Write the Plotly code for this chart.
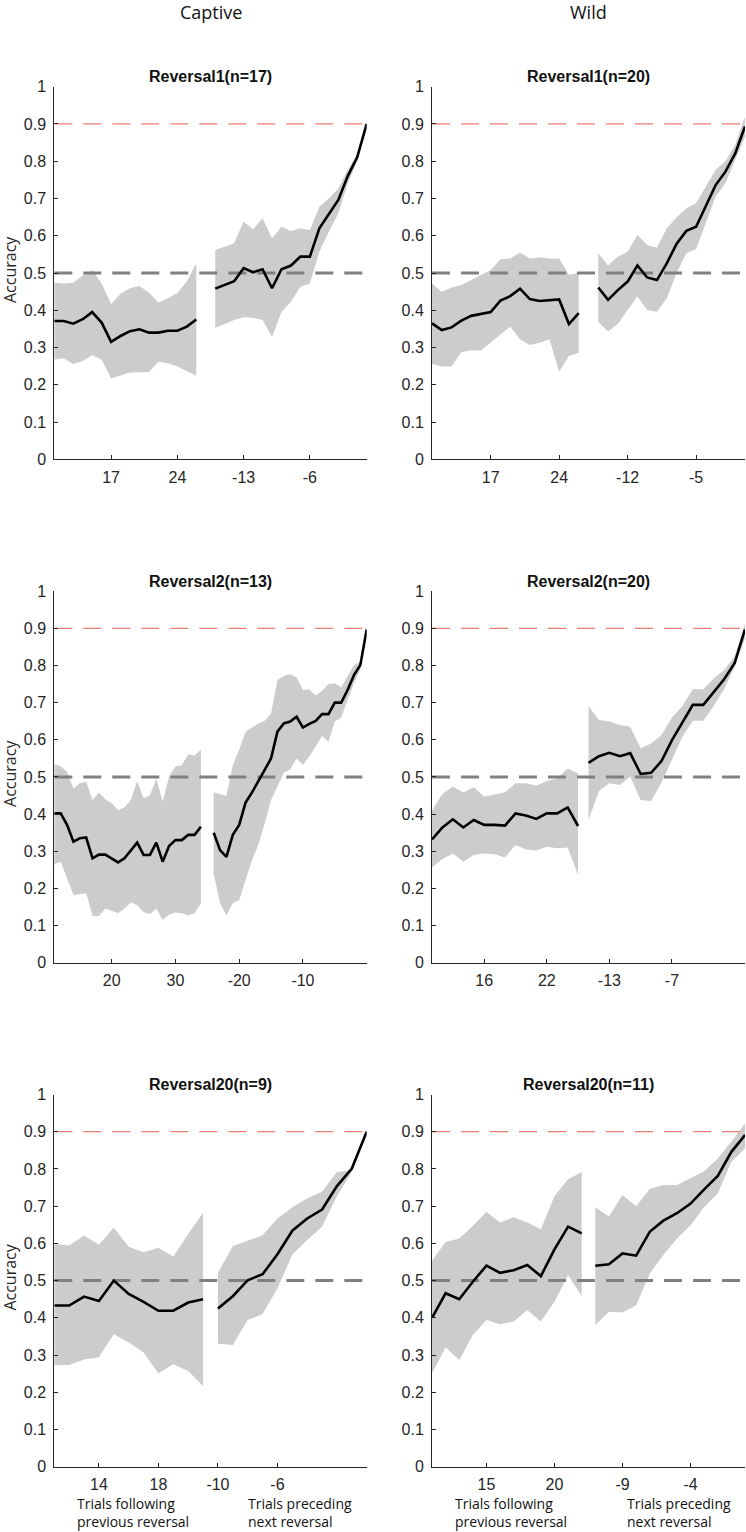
import plotly.graph_objects as go

W, H = 746, 1532

# ---------------- data ----------------
# Panel 1: Captive, Reversal1 (n=17)
p1_left_trials = list(range(11, 27))
p1_left_mean = [0.371, 0.371, 0.364, 0.376, 0.395, 0.367, 0.315, 0.331, 0.344, 0.349, 0.340, 0.340, 0.345, 0.345, 0.356, 0.375]
p1_left_hi = [0.474, 0.472, 0.474, 0.493, 0.508, 0.472, 0.417, 0.444, 0.459, 0.465, 0.447, 0.421, 0.432, 0.446, 0.477, 0.526]
p1_left_lo = [0.268, 0.271, 0.256, 0.264, 0.279, 0.267, 0.217, 0.225, 0.233, 0.233, 0.234, 0.262, 0.258, 0.249, 0.236, 0.224]
p1_right_trials = list(range(-16, 1))
p1_right_mean = [0.458, 0.468, 0.478, 0.513, 0.502, 0.510, 0.459, 0.510, 0.520, 0.544, 0.544, 0.620, 0.658, 0.696, 0.760, 0.811, 0.900]
p1_right_hi = [0.562, 0.571, 0.580, 0.638, 0.617, 0.647, 0.593, 0.624, 0.613, 0.620, 0.615, 0.678, 0.700, 0.727, 0.777, 0.817, 0.902]
p1_right_lo = [0.353, 0.363, 0.374, 0.381, 0.380, 0.374, 0.329, 0.396, 0.423, 0.463, 0.472, 0.557, 0.611, 0.660, 0.741, 0.799, 0.897]
p1_ticks = ["17", "24", "-13", "-6"]

# Panel 2: Wild, Reversal1 (n=20)
p2_left_trials = list(range(11, 27))
p2_left_mean = [0.365, 0.347, 0.354, 0.372, 0.385, 0.390, 0.395, 0.426, 0.438, 0.458, 0.430, 0.425, 0.426, 0.429, 0.363, 0.392]
p2_left_hi = [0.472, 0.450, 0.461, 0.468, 0.481, 0.495, 0.508, 0.537, 0.539, 0.555, 0.539, 0.542, 0.539, 0.539, 0.495, 0.499]
p2_left_lo = [0.256, 0.249, 0.249, 0.287, 0.293, 0.292, 0.314, 0.334, 0.356, 0.322, 0.307, 0.313, 0.322, 0.235, 0.277, 0.286]
p2_right_trials = list(range(-15, 1))
p2_right_mean = [0.461, 0.428, 0.454, 0.477, 0.520, 0.488, 0.481, 0.526, 0.578, 0.613, 0.624, 0.678, 0.736, 0.772, 0.821, 0.893]
p2_right_hi = [0.553, 0.520, 0.544, 0.557, 0.602, 0.575, 0.568, 0.620, 0.649, 0.674, 0.687, 0.732, 0.777, 0.800, 0.844, 0.920]
p2_right_lo = [0.369, 0.343, 0.363, 0.401, 0.437, 0.401, 0.396, 0.432, 0.499, 0.553, 0.564, 0.633, 0.705, 0.741, 0.803, 0.866]
p2_ticks = ["17", "24", "-12", "-5"]

# Panel 3: Captive, Reversal2 (n=13)
p3_left_trials = list(range(11, 35))
p3_left_mean = [0.402, 0.402, 0.371, 0.326, 0.335, 0.337, 0.281, 0.291, 0.291, 0.281, 0.270, 0.281,
                0.302, 0.323, 0.290, 0.290, 0.323, 0.272, 0.314, 0.330, 0.330, 0.344, 0.344, 0.366]
p3_left_hi = [0.534, 0.529, 0.514, 0.469, 0.483, 0.487, 0.438, 0.458, 0.440, 0.429, 0.411, 0.418,
              0.438, 0.489, 0.442, 0.451, 0.496, 0.433, 0.501, 0.528, 0.532, 0.561, 0.557, 0.574]
p3_left_lo = [0.265, 0.272, 0.227, 0.182, 0.184, 0.187, 0.126, 0.126, 0.146, 0.140, 0.133, 0.146,
              0.162, 0.155, 0.136, 0.131, 0.146, 0.115, 0.130, 0.135, 0.133, 0.128, 0.133, 0.160]
p3_right_trials = list(range(-24, 1))
p3_right_mean = [0.350, 0.303, 0.285, 0.344, 0.371, 0.431, 0.458, 0.487, 0.519, 0.550, 0.622, 0.644, 0.649,
                 0.662, 0.633, 0.643, 0.651, 0.669, 0.669, 0.700, 0.700, 0.734, 0.774, 0.801, 0.897]
p3_right_hi = [0.459, 0.453, 0.449, 0.532, 0.573, 0.622, 0.633, 0.644, 0.651, 0.671, 0.761, 0.772, 0.777,
               0.768, 0.734, 0.736, 0.719, 0.732, 0.750, 0.752, 0.741, 0.770, 0.801, 0.810, 0.900]
p3_right_lo = [0.240, 0.160, 0.128, 0.160, 0.169, 0.223, 0.276, 0.317, 0.375, 0.438, 0.474, 0.511, 0.521,
               0.550, 0.532, 0.555, 0.581, 0.610, 0.595, 0.649, 0.660, 0.707, 0.752, 0.788, 0.896]
p3_ticks = ["20", "30", "-20", "-10"]

# Panel 4: Wild, Reversal2 (n=20)
p4_left_trials = list(range(11, 26))
p4_left_mean = [0.332, 0.364, 0.386, 0.364, 0.384, 0.371, 0.371, 0.369, 0.402, 0.396, 0.387, 0.402, 0.402, 0.418, 0.368]
p4_left_hi = [0.409, 0.454, 0.474, 0.458, 0.472, 0.447, 0.453, 0.459, 0.483, 0.483, 0.476, 0.489, 0.496, 0.523, 0.510]
p4_left_lo = [0.256, 0.279, 0.294, 0.272, 0.290, 0.294, 0.292, 0.283, 0.317, 0.305, 0.302, 0.312, 0.308, 0.310, 0.236]
p4_right_trials = list(range(-15, 1))
p4_right_mean = [0.538, 0.556, 0.565, 0.556, 0.564, 0.508, 0.511, 0.543, 0.599, 0.646, 0.694, 0.694, 0.730, 0.763, 0.806, 0.897]
p4_right_hi = [0.691, 0.653, 0.649, 0.640, 0.635, 0.577, 0.590, 0.613, 0.660, 0.691, 0.736, 0.736, 0.765, 0.788, 0.824, 0.914]
p4_right_lo = [0.384, 0.462, 0.483, 0.478, 0.501, 0.438, 0.435, 0.485, 0.547, 0.608, 0.651, 0.651, 0.691, 0.736, 0.797, 0.873]
p4_ticks = ["16", "22", "-13", "-7"]

# Panel 5: Captive, Reversal20 (n=9)
p5_left_trials = list(range(11, 22))
p5_left_mean = [0.433, 0.433, 0.457, 0.445, 0.500, 0.464, 0.443, 0.419, 0.419, 0.441, 0.450]
p5_left_hi = [0.598, 0.594, 0.621, 0.596, 0.642, 0.591, 0.576, 0.588, 0.564, 0.625, 0.682]
p5_left_lo = [0.273, 0.273, 0.288, 0.294, 0.356, 0.334, 0.307, 0.251, 0.275, 0.257, 0.217]
p5_right_trials = list(range(-10, 1))
p5_right_mean = [0.425, 0.458, 0.501, 0.517, 0.571, 0.634, 0.667, 0.691, 0.754, 0.801, 0.900]
p5_right_hi = [0.521, 0.593, 0.607, 0.622, 0.667, 0.697, 0.721, 0.739, 0.792, 0.797, 0.903]
p5_right_lo = [0.330, 0.327, 0.394, 0.410, 0.479, 0.570, 0.609, 0.645, 0.727, 0.792, 0.897]
p5_ticks = ["14", "18", "-10", "-6"]

# Panel 6: Wild, Reversal20 (n=11)
p6_left_trials = list(range(11, 23))
p6_left_mean = [0.400, 0.466, 0.450, 0.497, 0.540, 0.521, 0.528, 0.542, 0.512, 0.584, 0.645, 0.627]
p6_left_hi = [0.553, 0.604, 0.613, 0.647, 0.685, 0.656, 0.670, 0.656, 0.638, 0.727, 0.772, 0.792]
p6_left_lo = [0.251, 0.321, 0.287, 0.354, 0.394, 0.383, 0.390, 0.421, 0.390, 0.443, 0.515, 0.458]
p6_right_trials = list(range(-11, 1))
p6_right_mean = [0.540, 0.544, 0.573, 0.567, 0.631, 0.661, 0.681, 0.707, 0.745, 0.781, 0.846, 0.891]
p6_right_hi = [0.697, 0.672, 0.730, 0.700, 0.746, 0.757, 0.757, 0.775, 0.794, 0.828, 0.873, 0.922]
p6_right_lo = [0.381, 0.416, 0.414, 0.434, 0.519, 0.569, 0.613, 0.649, 0.698, 0.734, 0.819, 0.855]
p6_ticks = ["15", "20", "-9", "-4"]

titles = ["Reversal1(n=17)", "Reversal1(n=20)", "Reversal2(n=13)", "Reversal2(n=20)",
          "Reversal20(n=9)", "Reversal20(n=11)"]
column_titles = ["Captive", "Wild"]
y_ticks = [0, 0.1, 0.2, 0.3, 0.4, 0.5, 0.6, 0.7, 0.8, 0.9, 1]
y_ticktext = ["0", "0.1", "0.2", "0.3", "0.4", "0.5", "0.6", "0.7", "0.8", "0.9", "1"]
chance_level = 0.5
criterion_level = 0.9

panels = [
    dict(lt=p1_left_trials, lm=p1_left_mean, lh=p1_left_hi, ll=p1_left_lo,
         rt=p1_right_trials, rm=p1_right_mean, rh=p1_right_hi, rl=p1_right_lo, ticks=p1_ticks, gap=1),
    dict(lt=p2_left_trials, lm=p2_left_mean, lh=p2_left_hi, ll=p2_left_lo,
         rt=p2_right_trials, rm=p2_right_mean, rh=p2_right_hi, rl=p2_right_lo, ticks=p2_ticks, gap=1),
    dict(lt=p3_left_trials, lm=p3_left_mean, lh=p3_left_hi, ll=p3_left_lo,
         rt=p3_right_trials, rm=p3_right_mean, rh=p3_right_hi, rl=p3_right_lo, ticks=p3_ticks, gap=1),
    dict(lt=p4_left_trials, lm=p4_left_mean, lh=p4_left_hi, ll=p4_left_lo,
         rt=p4_right_trials, rm=p4_right_mean, rh=p4_right_hi, rl=p4_right_lo, ticks=p4_ticks, gap=0),
    dict(lt=p5_left_trials, lm=p5_left_mean, lh=p5_left_hi, ll=p5_left_lo,
         rt=p5_right_trials, rm=p5_right_mean, rh=p5_right_hi, rl=p5_right_lo, ticks=p5_ticks, gap=0),
    dict(lt=p6_left_trials, lm=p6_left_mean, lh=p6_left_hi, ll=p6_left_lo,
         rt=p6_right_trials, rm=p6_right_mean, rh=p6_right_hi, rl=p6_right_lo, ticks=p6_ticks, gap=0),
]

# ---------------- layout geometry (page pixels) ----------------
col_px = [(54.3, 366.7), (432.0, 745.0)]
row_px = [(86.7, 459.3), (591.2, 962.7), (1094.5, 1466.7)]


def px_x(v):
    return v / W


def px_y(v):
    return 1 - v / H


TICK_FONT = dict(family="Liberation Sans, Arial, sans-serif", size=16, color="#262626")
AXIS_COLOR = "#262626"
BAND_COLOR = "#cccccc"

fig = go.Figure()
layout = dict(
    width=W, height=H,
    margin=dict(l=0, r=0, t=0, b=0, autoexpand=False),
    paper_bgcolor="white", plot_bgcolor="white",
    showlegend=False,
    annotations=[],
)

for i, p in enumerate(panels):
    k = i + 1
    row, col = divmod(i, 2)
    xa = "x" if k == 1 else f"x{k}"
    ya = "y" if k == 1 else f"y{k}"
    cats = ([str(t) for t in p["lt"]] + [f"gap{g}" for g in range(p["gap"])]
            + [str(t) for t in p["rt"]])

    # shaded bands
    for trials, hi, lo in ((p["lt"], p["lh"], p["ll"]), (p["rt"], p["rh"], p["rl"])):
        xs = [str(t) for t in trials]
        fig.add_trace(go.Scatter(
            x=xs + xs[::-1], y=hi + lo[::-1], xaxis=xa, yaxis=ya,
            fill="toself", fillcolor=BAND_COLOR, mode="lines",
            line=dict(width=0, color=BAND_COLOR), hoverinfo="skip"))

    # reference lines
    fig.add_trace(go.Scatter(
        x=[cats[0], cats[-1]], y=[criterion_level, criterion_level], xaxis=xa, yaxis=ya,
        mode="lines", line=dict(color="#ef7b73", width=1.2, dash="18px,11px"), hoverinfo="skip"))
    fig.add_trace(go.Scatter(
        x=[cats[0], cats[-1]], y=[chance_level, chance_level], xaxis=xa, yaxis=ya,
        mode="lines", line=dict(color="#808080", width=3, dash="18px,11px"), hoverinfo="skip"))

    # mean lines
    for trials, mean in ((p["lt"], p["lm"]), (p["rt"], p["rm"])):
        fig.add_trace(go.Scatter(
            x=[str(t) for t in trials], y=mean, xaxis=xa, yaxis=ya,
            mode="lines", line=dict(color="black", width=2.6), cliponaxis=False))

    x0, x1 = col_px[col]
    y0, y1 = row_px[row]
    layout["xaxis" if k == 1 else f"xaxis{k}"] = dict(
        domain=[px_x(x0), px_x(x1)], anchor=ya, automargin=False,
        type="category", categoryorder="array", categoryarray=cats,
        range=[0, len(cats) - 1],
        tickmode="array", tickvals=p["ticks"], ticktext=p["ticks"],
        ticks="inside", ticklen=4, tickcolor=AXIS_COLOR, tickwidth=1,
        showline=True, linecolor=AXIS_COLOR, linewidth=1,
        showgrid=False, zeroline=False, tickfont=TICK_FONT, ticklabelstandoff=3,
        fixedrange=True,
    )
    layout["yaxis" if k == 1 else f"yaxis{k}"] = dict(
        domain=[px_y(y1), px_y(y0)], anchor=xa, automargin=False,
        range=[0, 1], tickmode="array", tickvals=y_ticks, ticktext=y_ticktext,
        ticks="inside", ticklen=4, tickcolor=AXIS_COLOR, tickwidth=1,
        showline=True, linecolor=AXIS_COLOR, linewidth=1,
        showgrid=False, zeroline=False, tickfont=TICK_FONT, ticklabelstandoff=4,
        fixedrange=True,
    )

    # panel title
    layout["annotations"].append(dict(
        text=f"<b>{titles[i]}</b>", xref="paper", yref="paper",
        x=px_x((x0 + x1) / 2), y=px_y(y0 - 10), xanchor="center", yanchor="middle",
        showarrow=False,
        font=dict(family="Liberation Sans, Arial, sans-serif", size=16, color="#111111")))

    # y-axis label on the left column
    if col == 0:
        layout["annotations"].append(dict(
            text="Accuracy", xref="paper", yref="paper",
            x=px_x(10), y=px_y((y0 + y1) / 2 - 3), xanchor="center", yanchor="middle",
            textangle=-90, showarrow=False,
            font=dict(family="Open Sans, sans-serif", size=16, color="#262626")))

# column titles
for col, name in enumerate(column_titles):
    x0, x1 = col_px[col]
    layout["annotations"].append(dict(
        text=name, xref="paper", yref="paper",
        x=px_x((x0 + x1) / 2), y=px_y(12), xanchor="center", yanchor="middle",
        showarrow=False, font=dict(family="Open Sans, sans-serif", size=18, color="#111111")))

# bottom x-axis descriptions
bottom_labels = [
    ("Trials following<br>previous reversal", 132.5),
    ("Trials preceding<br>next reversal", 299.5),
    ("Trials following<br>previous reversal", 511.5),
    ("Trials preceding<br>next reversal", 679.0),
]
for text, cx in bottom_labels:
    layout["annotations"].append(dict(
        text=text, xref="paper", yref="paper", x=px_x(cx), y=px_y(1512),
        xanchor="center", yanchor="middle", align="left", showarrow=False,
        font=dict(family="Open Sans, sans-serif", size=14, color="#111111")))

fig.update_layout(**layout)
# remove the page's default body margin so the figure fills the window exactly
fig.write_html("out.html", config={"displayModeBar": False},
               post_script="document.body.style.margin='0';")
